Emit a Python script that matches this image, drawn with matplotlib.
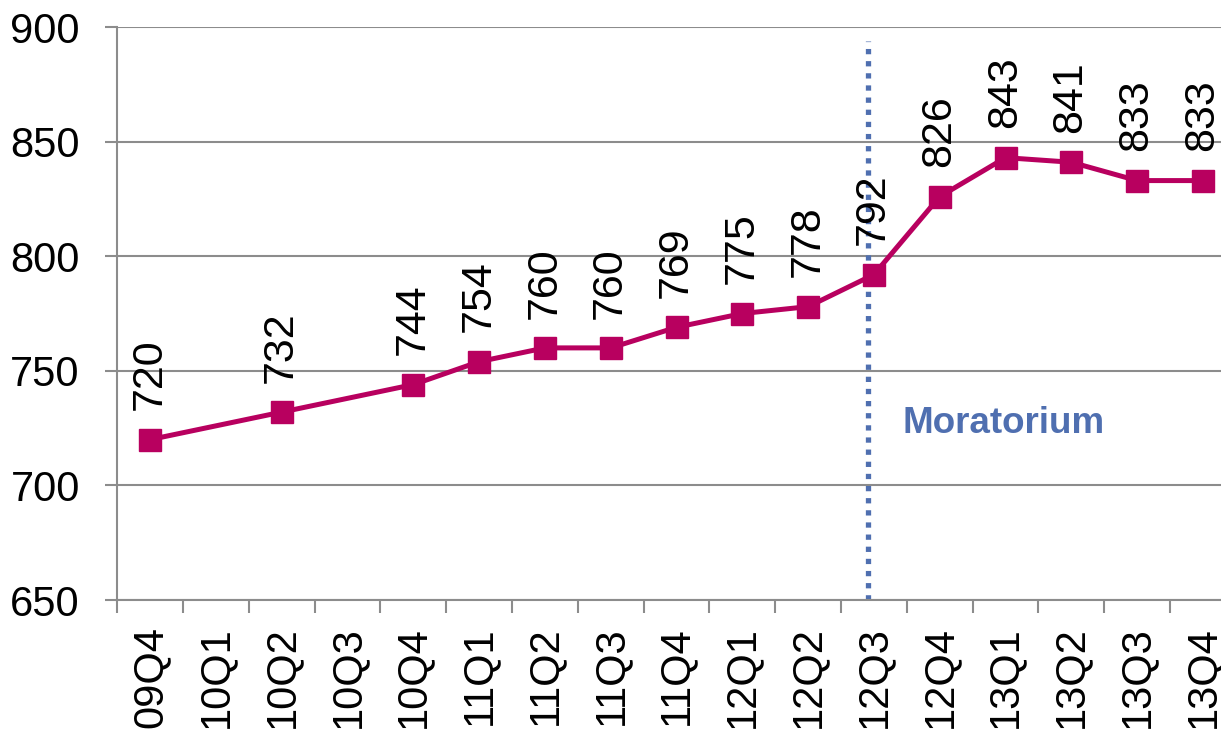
import matplotlib.pyplot as plt
from matplotlib.ticker import FixedLocator

plt.rcParams['font.family'] = ['Liberation Sans', 'DejaVu Sans']

quarters = ["09Q4", "10Q1", "10Q2", "10Q3", "10Q4", "11Q1", "11Q2", "11Q3",
            "11Q4", "12Q1", "12Q2", "12Q3", "12Q4", "13Q1", "13Q2", "13Q3", "13Q4"]
# quarters that have a value (10Q1 and 10Q3 are missing)
point_quarters = ["09Q4", "10Q2", "10Q4", "11Q1", "11Q2", "11Q3", "11Q4", "12Q1",
                  "12Q2", "12Q3", "12Q4", "13Q1", "13Q2", "13Q3", "13Q4"]
values = [720, 732, 744, 754, 760, 760, 769, 775, 778, 792, 826, 843, 841, 833, 833]
moratorium_pos = 10.91

line_color = "#b8005f"
grid_color = "#8c8c8c"
mor_color = "#4f6fb0"

fig = plt.figure(figsize=(12.21, 7.32), dpi=100)
ax = fig.add_axes([0.0961, 0.1803, 0.916, 0.7828])

xs = [quarters.index(q) for q in point_quarters]
ax.plot(xs, values, color=line_color, lw=3.6, marker="s", ms=16.5,
        markeredgecolor=line_color, zorder=3)

for x, v in zip(xs, values):
    ax.annotate(str(v), xy=(x, v), xytext=(-0.5, 21), textcoords="offset points",
                rotation=90, ha="center", va="bottom", fontsize=31, zorder=4)

ax.plot([moratorium_pos, moratorium_pos], [650, 894], color=mor_color, lw=3.8,
        linestyle=(0, (1, 1.3)), zorder=2)
ax.text(moratorium_pos + 0.53, 727, "Moratorium", color=mor_color, fontsize=26.5,
        fontweight="bold", ha="left", va="center")

ax.set_xlim(-0.5, 16.5)
ax.set_ylim(650, 900)
ax.set_yticks([650, 700, 750, 800, 850, 900])
ax.set_xticks(range(len(quarters)))
ax.set_xticklabels(quarters, rotation=90, va="top", ha="center")
ax.xaxis.set_minor_locator(FixedLocator([i - 0.5 for i in range(len(quarters) + 1)]))

ax.yaxis.grid(True, color=grid_color, lw=1.5)
ax.set_axisbelow(True)
for s in ["top", "right"]:
    ax.spines[s].set_visible(False)
for s in ["left", "bottom"]:
    ax.spines[s].set_color(grid_color)
    ax.spines[s].set_linewidth(1.5)

ax.tick_params(axis="y", labelsize=30, length=9, width=1.5, color=grid_color, pad=18)
ax.tick_params(axis="x", which="major", labelsize=30, length=0, pad=19)
ax.tick_params(axis="x", which="minor", length=9, width=1.5, color=grid_color)

fig.savefig("out.png", dpi=100)
